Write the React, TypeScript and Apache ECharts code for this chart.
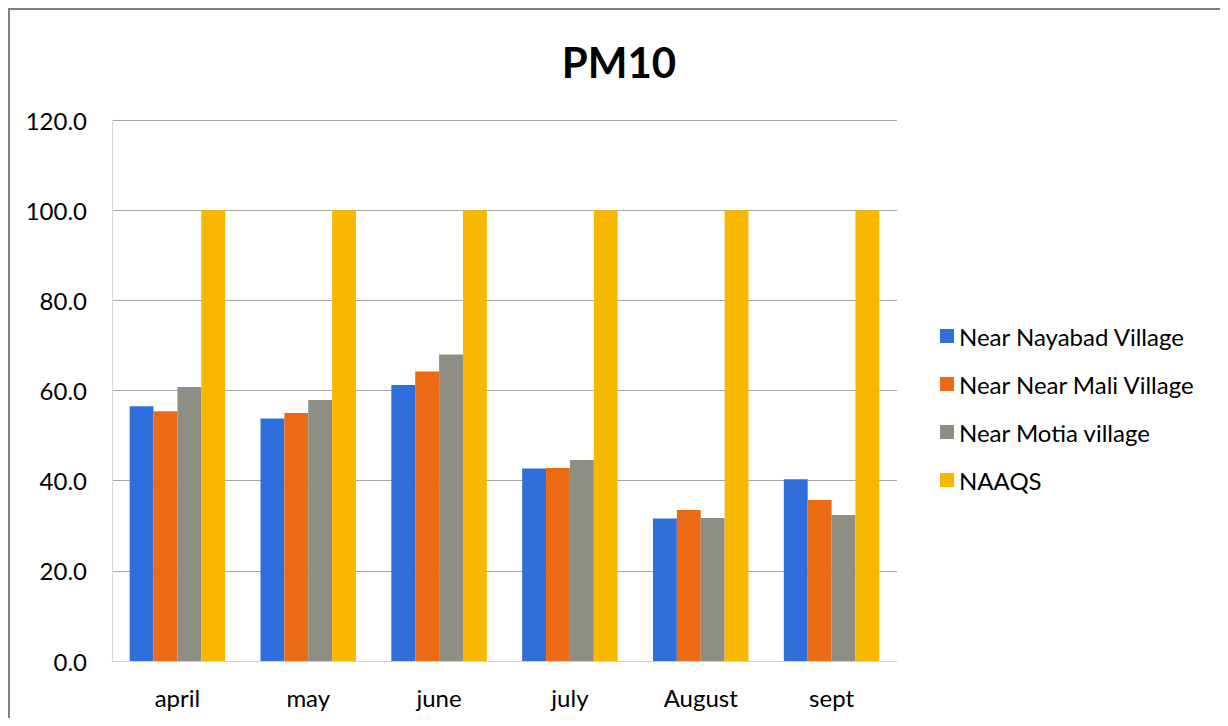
import React, { useEffect, useRef } from "react";
import * as echarts from "echarts";

const categories = ["april", "may", "june", "july", "August", "sept"];
const nayabad = [56.5, 53.8, 61.2, 42.7, 31.6, 40.3];
const mali = [55.4, 55.0, 64.2, 42.8, 33.5, 35.7];
const motia = [60.8, 57.9, 68.0, 44.6, 31.7, 32.4];
const naaqs = [100, 100, 100, 100, 100, 100];
const seriesNames = ["Near Nayabad Village", "Near Near Mali Village", "Near Motia village", "NAAQS"];
const colors = ["#2f6fdb", "#ed6a14", "#8e8e84", "#f8b800"];

const FONT = "Lato, 'Open Sans', sans-serif";

export default function App() {
  const ref = useRef<HTMLDivElement>(null);
  useEffect(() => {
    document.documentElement.style.overflow = "hidden";
    document.body.style.overflow = "hidden";
    if (!ref.current) return;
    const chart = echarts.init(ref.current, null, { renderer: "svg" });
    const data = [nayabad, mali, motia, naaqs];
    chart.setOption({
      animation: false,
      backgroundColor: "#ffffff",
      title: {
        text: "PM10",
        left: "center",
        top: 26,
        textStyle: { fontFamily: FONT, fontSize: 42, fontWeight: "bold", color: "#000" },
      },
      legend: {
        orient: "vertical",
        left: 925,
        top: 309,
        itemGap: 24,
        itemWidth: 14,
        itemHeight: 14,
        icon: "rect",
        textStyle: { fontFamily: FONT, fontSize: 24, color: "#000" },
        data: seriesNames,
      },
      grid: { left: 102, right: 331, top: 110, bottom: 57, containLabel: false },
      xAxis: {
        type: "category",
        data: categories,
        axisLine: { show: true, lineStyle: { color: "#d0d0d0", width: 1 } },
        axisTick: { show: false },
        axisLabel: { fontFamily: FONT, fontSize: 24, color: "#000", margin: 24 },
      },
      yAxis: {
        type: "value",
        min: 0,
        max: 120,
        interval: 20,
        axisLine: { show: true, lineStyle: { color: "#d8d8d8" } },
        axisTick: { show: false },
        splitLine: { lineStyle: { color: "#a6a6a6", width: 1 } },
        axisLabel: {
          fontFamily: FONT,
          fontSize: 24,
          color: "#000",
          margin: 25,
          formatter: (v: number) => v.toFixed(1),
        },
      },
      series: seriesNames.map((name, i) => ({
        name,
        type: "bar",
        data: data[i],
        barGap: "0%",
        barCategoryGap: "27%",
        itemStyle: { color: colors[i] },
      })),
    });
    return () => chart.dispose();
  }, []);
  return (
    <div
      style={{
        width: 1220,
        height: 710,
        borderLeft: "2px solid #7f7f7f",
        borderTop: "2px solid #7f7f7f",
        boxSizing: "border-box",
        background: "#fff",
        overflow: "hidden",
      }}
    >
      <div ref={ref} style={{ width: 1218, height: 708 }} />
    </div>
  );
}
